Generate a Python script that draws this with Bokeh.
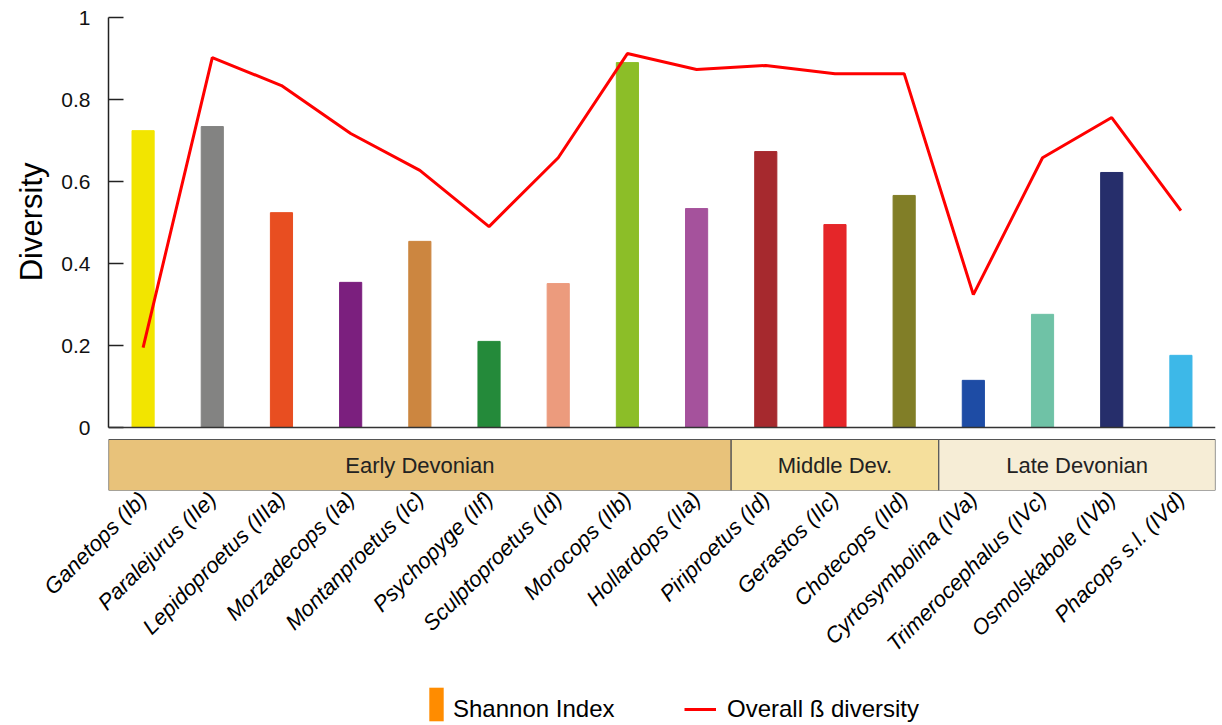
from math import pi
from bokeh.plotting import figure
from bokeh.models import (Range1d, FixedTicker, CustomJSTickFormatter, Span, Legend,
                          LegendItem, ColumnDataSource, Title)
from bokeh.layouts import column
from bokeh.core.properties import value
from bokeh.embed import file_html
from bokeh.resources import INLINE

taxa = ["Ganetops (Ib)", "Paralejurus (IIe)", "Lepidoproetus (IIIa)", "Morzadecops (Ia)",
        "Montanproetus (Ic)", "Psychopyge (IIf)", "Sculptoproetus (Id)", "Morocops (IIb)",
        "Hollardops (IIa)", "Piriproetus (Id)", "Gerastos (IIc)", "Chotecops (IId)",
        "Cyrtosymbolina (IVa)", "Trimerocephalus (IVc)", "Osmolskabole (IVb)", "Phacops s.l. (IVd)"]
shannon = [0.724, 0.734, 0.524, 0.354, 0.454, 0.210, 0.351, 0.890,
           0.534, 0.673, 0.495, 0.566, 0.115, 0.276, 0.622, 0.176]
beta = [0.195, 0.902, 0.834, 0.717, 0.627, 0.490, 0.658, 0.912,
        0.873, 0.883, 0.863, 0.863, 0.324, 0.658, 0.756, 0.529]
bar_colors = ["#F2E500", "#838382", "#E84E21", "#7B1F7E", "#CC8640", "#248A3A", "#EC9B7D", "#8CBE28",
              "#A5529C", "#A6292E", "#E52629", "#817E27", "#1E4CA5", "#6FC2A6", "#262E6B", "#3DB8E8"]
periods = ["Early Devonian", "Middle Dev.", "Late Devonian"]
period_counts = [9, 3, 4]
period_colors = ["#E8C27A", "#F5DF9C", "#F6EDD6"]
yticks = [0, 0.2, 0.4, 0.6, 0.8, 1]

FONT = "Liberation Sans"
PX_PER_UNIT = 410.0
FRAME_H = 473
BAND_BOTTOM = 1 - FRAME_H / PX_PER_UNIT
BAND_TOP = -0.0293

idx = list(range(len(taxa)))

p = figure(frame_width=1107, frame_height=FRAME_H, min_border_left=108, min_border_right=6,
           min_border_top=17, min_border_bottom=180,
           x_range=Range1d(-0.5, len(taxa) - 0.5), y_range=Range1d(BAND_BOTTOM, 1.0),
           output_backend="svg", toolbar_location=None)
p.outline_line_color = None
p.grid.visible = False
p.background_fill_color = "white"

src = ColumnDataSource(dict(x=idx, top=shannon, color=bar_colors))
p.vbar(x="x", top="top", width=0.32, color="color", source=src)
p.line(idx, beta, line_color="#FF0000", line_width=3)
p.add_layout(Span(location=0, dimension="width", line_color="#333333", line_width=1.5))

# period band
lefts, rights = [], []
start = 0
for c in period_counts:
    lefts.append(start - 0.5)
    rights.append(start + c - 0.5)
    start += c
centers = [(a + b) / 2 for a, b in zip(lefts, rights)]
bsrc = ColumnDataSource(dict(left=lefts, right=rights, color=period_colors, name=periods,
                             cx=centers, top=[BAND_TOP] * 3, bottom=[BAND_BOTTOM] * 3,
                             cy=[(BAND_TOP + BAND_BOTTOM) / 2] * 3))
p.quad(left="left", right="right", top="top", bottom="bottom", fill_color="color",
       line_color="#555555", line_width=1.2, source=bsrc)
p.text(x="cx", y="cy", text="name", source=bsrc, text_align="center", text_baseline="middle",
       text_font=value(FONT), text_font_size="22px", text_color="#222222")

# y axis
ya = p.yaxis[0]
ya.ticker = FixedTicker(ticks=yticks)
ya.formatter = CustomJSTickFormatter(code="return String(tick)")
ya.bounds = (0, 1)
ya.axis_line_color = "#222222"
ya.axis_line_width = 1.5
ya.major_tick_in = 15
ya.major_tick_out = 0
ya.major_tick_line_color = "#222222"
ya.major_tick_line_width = 1.5
ya.minor_tick_line_color = None
ya.major_label_text_font = FONT
ya.major_label_text_font_size = "21px"
ya.major_label_text_color = "#111111"
ya.major_label_standoff = 18

# y axis title, placed against the 0..1 part of the axis
ytitle = Title(text="Diversity", align="right", offset=145, standoff=20, text_font=FONT,
               text_font_size="31px", text_font_style="normal", text_color="#000000")
p.add_layout(ytitle, "left")

# x axis
xa = p.xaxis[0]
xa.ticker = FixedTicker(ticks=idx)
xa.major_label_overrides = {i: t for i, t in zip(idx, taxa)}
xa.major_label_orientation = pi / 4
xa.axis_line_color = None
xa.major_tick_line_color = None
xa.minor_tick_line_color = None
xa.major_tick_in = 0
xa.major_tick_out = 0
xa.major_label_standoff = 5
xa.major_label_text_font = FONT
xa.major_label_text_font_size = "22px"
xa.major_label_text_font_style = "italic"
xa.major_label_text_color = "#000000"

# legend strip
p2 = figure(frame_width=1107, frame_height=54, min_border_left=108, min_border_right=6,
            min_border_top=0, min_border_bottom=0, x_range=Range1d(0, 1), y_range=Range1d(0, 1),
            x_axis_location=None, y_axis_location=None,
            output_backend="svg", toolbar_location=None)
p2.grid.visible = False
p2.outline_line_color = None
r_swatch = p2.vbar(x=[-5], top=[0], width=0.3, fill_color="#FF8C00", line_color=None)
r_blank = p2.line(x=[-5, -4], y=[0, 0], line_alpha=0)
r_line = p2.line(x=[-5, -4], y=[0, 0], line_color="#FF0000", line_width=3)

common = dict(padding=0, margin=0, border_line_color=None, background_fill_alpha=0,
              label_text_font=FONT, label_text_font_size="24px", label_text_color="#000000")
lgA = Legend(items=[LegendItem(label=" ", renderers=[r_swatch])], location=(319, -1),
             glyph_width=18, glyph_height=42, label_height=42, label_standoff=0, **common)
lgB = Legend(items=[LegendItem(label="Shannon Index", renderers=[r_blank])], location=(344, 0),
             glyph_width=1, glyph_height=30, label_height=30, label_standoff=0, **common)
lgC = Legend(items=[LegendItem(label="Overall ß diversity", renderers=[r_line])], location=(576, 0),
             glyph_width=32, glyph_height=30, label_height=30, label_standoff=11, **common)
for lg in (lgA, lgB, lgC):
    p2.add_layout(lg)

open("out.html", "w").write(file_html(column(p, p2), INLINE))
